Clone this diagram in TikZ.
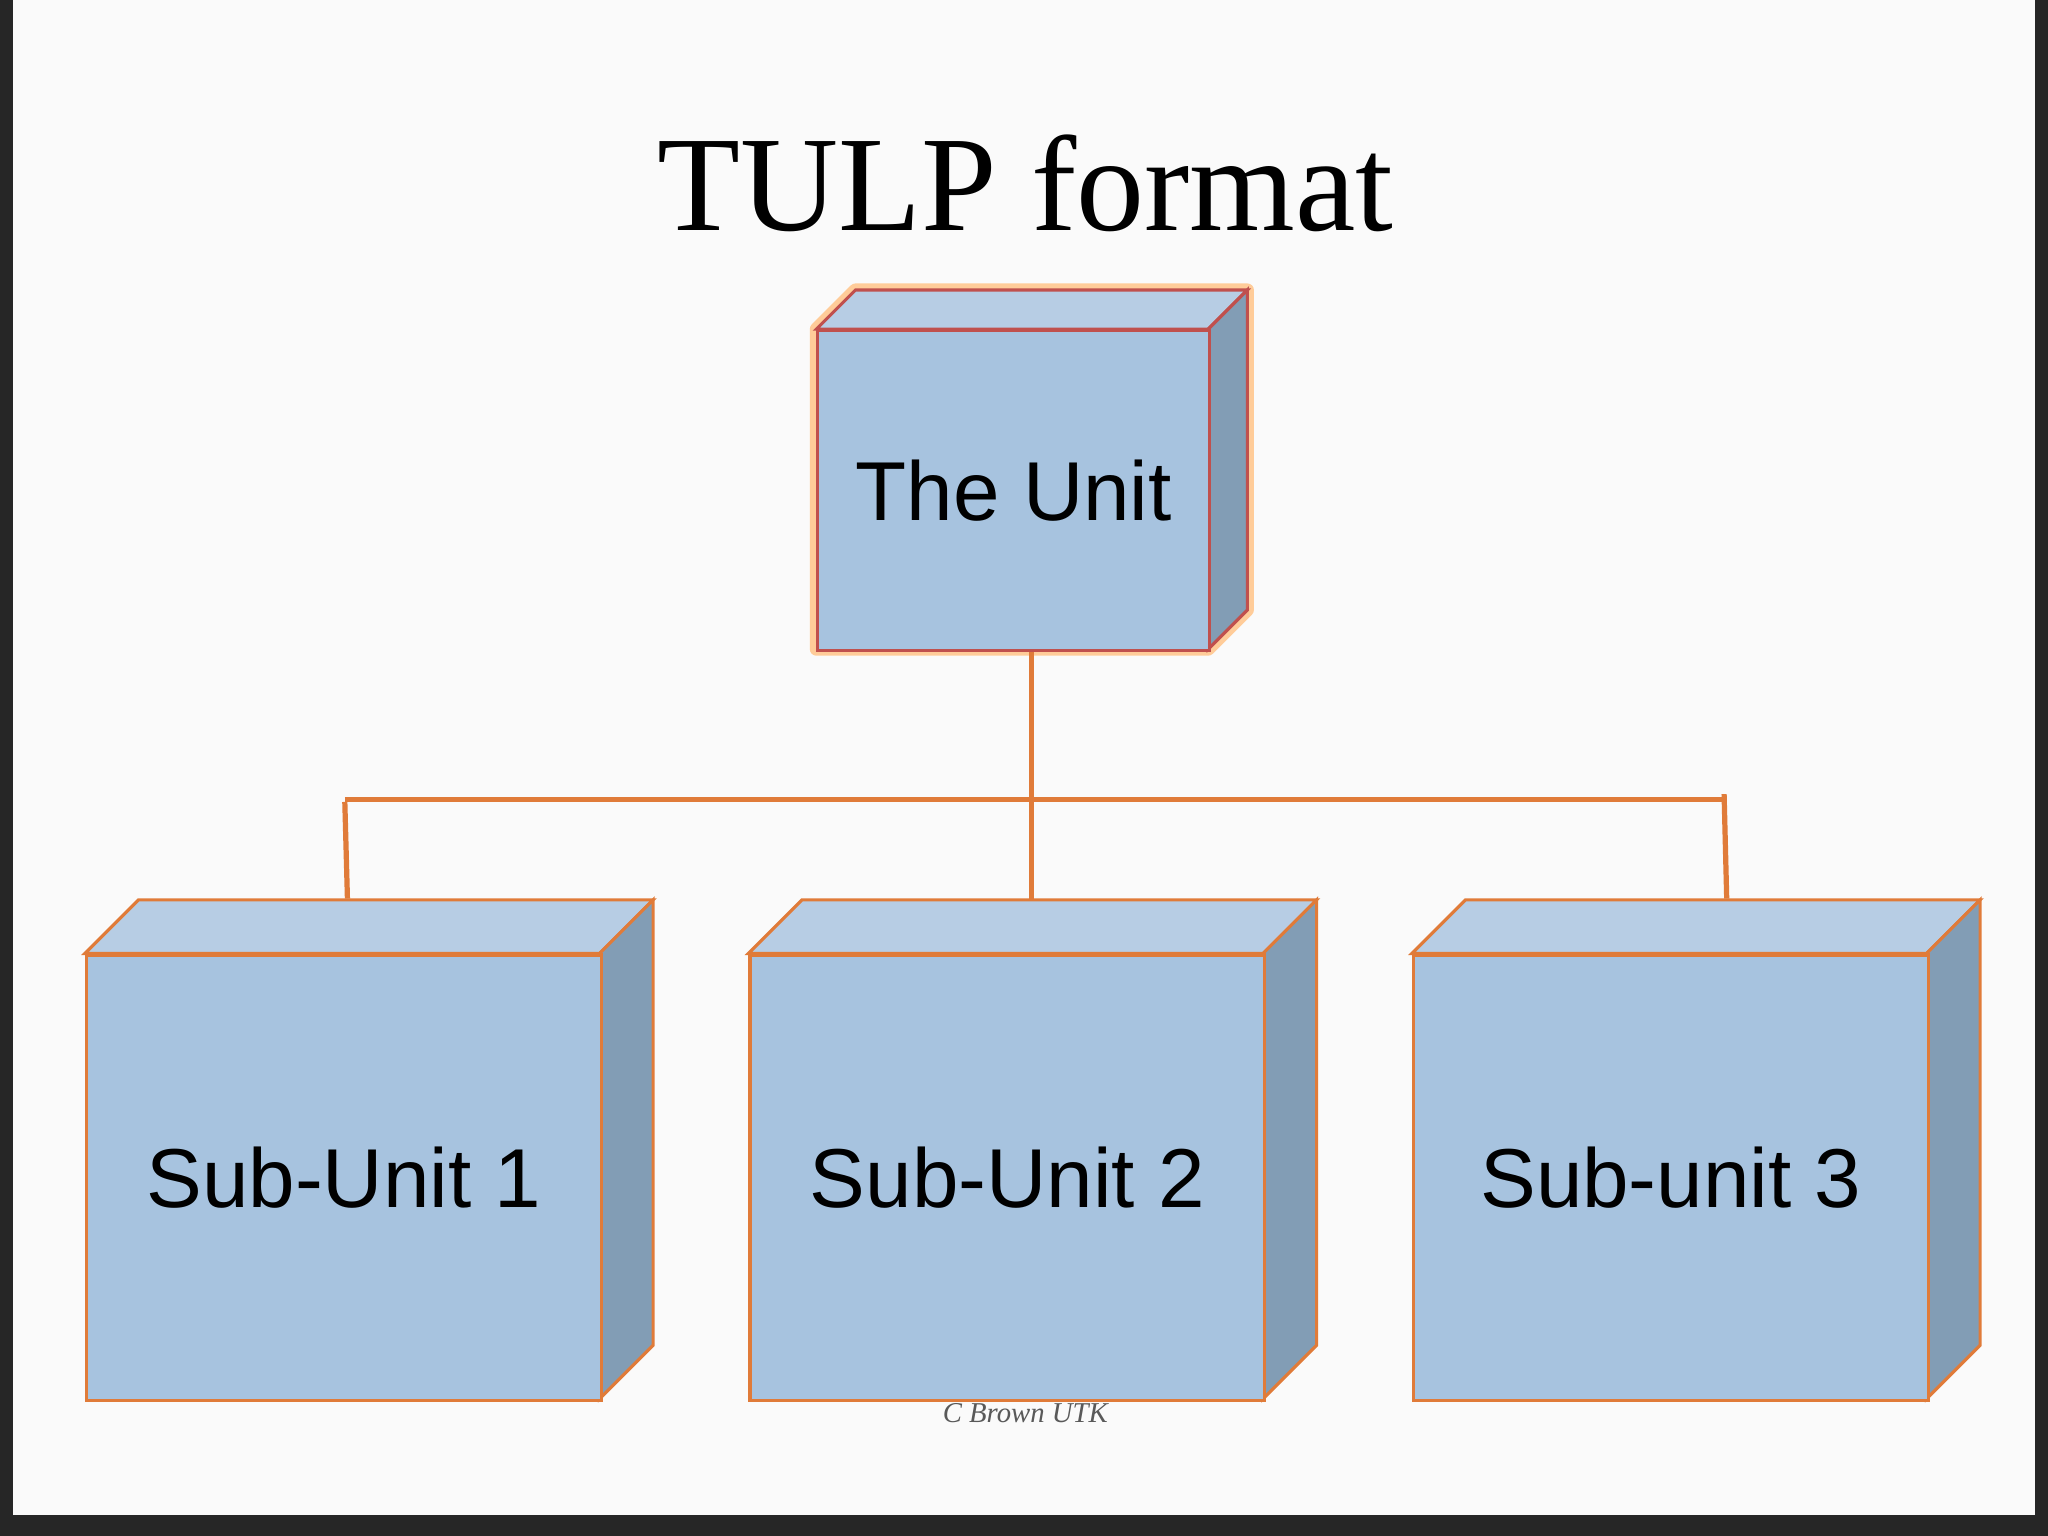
\documentclass[tikz,border=0pt]{standalone}
\usepackage{fontspec}
\setmainfont{Liberation Serif}
\newfontfamily\arialf{Liberation Sans}
\begin{document}
\begin{tikzpicture}[x=0.5pt,y=-0.5pt,
  front/.style={draw=#1,line width=1.2pt,fill=boxblue,minimum width=197pt,minimum height=170.5pt,anchor=north west,inner sep=0pt,font=\arialf\fontsize{32}{36}\selectfont},
  conn/.style={draw=conorange,line width=2pt}]
\definecolor{boxblue}{HTML}{A7C3DF}
\definecolor{boxtop}{HTML}{B7CDE4}
\definecolor{boxside}{HTML}{829DB5}
\definecolor{conorange}{HTML}{E07B39}
\definecolor{topred}{HTML}{C0504D}
\useasboundingbox (0,0) rectangle (1568,1176);
\fill[black!85] (0,0) rectangle (1568,1176);
\fill[white!96!gray] (10,0) rectangle (1558,1160);
% title
\node (title) at (785,140) {\fontsize{52}{58}\selectfont TULP format};
\newcommand\threed[6]{%
  \filldraw[draw=#6,line width=1.2pt,fill=boxtop] (#1,#2) -- (#1+#5,#2-#5) -- (#3+#5,#2-#5) -- (#3,#2) -- cycle;
  \filldraw[draw=#6,line width=1.2pt,fill=boxside] (#3,#2) -- (#3+#5,#2-#5) -- (#3+#5,#4-#5) -- (#3,#4) -- cycle;}
% top box with glow
\draw[orange!40,line width=5pt,line join=round] (625,252) -- (655,222) -- (955,222) -- (955,467) -- (925,497) -- (625,497) -- cycle;
\threed{625}{252}{925}{497}{30}{topred}
\node[front=topred,minimum width=150pt,minimum height=122.5pt] (unit) at (625,252) {The Unit};
% sub boxes
\threed{65}{730}{459}{1071}{41}{conorange}
\node[front=conorange] (s1) at (65,730) {Sub-Unit 1};
\threed{573}{730}{967}{1071}{41}{conorange}
\node[front=conorange] (s2) at (573,730) {Sub-Unit 2};
\threed{1081}{730}{1475}{1071}{41}{conorange}
\node[front=conorange] (s3) at (1081,730) {Sub-unit 3};
% connectors
\coordinate (j) at (790,612);
\coordinate (jl) at (264,612);
\coordinate (jr) at (1320,612);
\coordinate (t1) at (266,688);
\coordinate (t2) at (790,688);
\coordinate (t3) at (1322,688);
\draw[conn] (unit.south -| j) -- (t2);
\draw[conn] (jl) -- (jr);
\draw[conn] (264,614) -- (t1);
\draw[conn] (1320,608) -- (t3);
% signature
\node[text=gray!70!black,font=\itshape\fontsize{11}{12}\selectfont] (sig) at (785,1082) {C Brown UTK};
\end{tikzpicture}
\end{document}
